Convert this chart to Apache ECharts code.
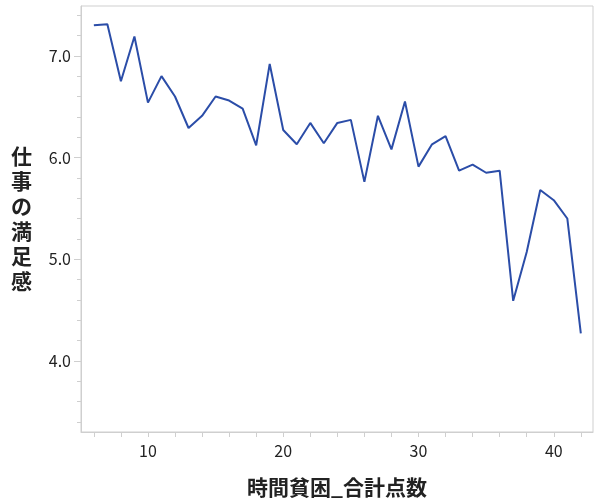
<!DOCTYPE html>
<html>
<head>
<meta charset="utf-8">
<script src="https://cdn.jsdelivr.net/npm/echarts@6/dist/echarts.min.js"></script>
<style>html,body{margin:0;padding:0;background:#fff}#c{width:600px;height:502px}</style>
</head>
<body>
<div id="c"></div>
<script>
const xValues = [6,7,8,9,10,11,12,13,14,15,16,17,18,19,20,21,22,23,24,25,26,27,28,29,30,31,32,33,34,35,36,37,38,39,40,41,42];
const yValues = [7.30,7.31,6.75,7.19,6.54,6.80,6.60,6.29,6.41,6.60,6.56,6.48,6.12,6.92,6.27,6.13,6.34,6.14,6.34,6.37,5.76,6.41,6.08,6.55,5.91,6.13,6.21,5.87,5.93,5.85,5.87,4.59,5.07,5.68,5.58,5.40,4.27];
const xLabelValues = [10,20,30,40];
const xTickValues = [6,8,10,12,14,16,18,20,22,24,26,28,30,32,34,36,38,40,42];
const yLabelValues = [4,5,6,7];
const yMinorValues = [3.4,3.6,3.8,4.0,4.2,4.4,4.6,4.8,5.0,5.2,5.4,5.6,5.8,6.0,6.2,6.4,6.6,6.8,7.0,7.2,7.4];
const xTitle = '時間貧困_合計点数';
const yTitle = '仕事の満足感';

const chart = echarts.init(document.getElementById('c'), null, {renderer: 'canvas'});
const font = 'Noto Sans CJK JP';
const frame = '#cfcfcf';
chart.setOption({
  animation: false,
  backgroundColor: '#fff',
  grid: {left: 81, top: 6, right: 7, bottom: 70, show: true, borderColor: frame, borderWidth: 1,
    backgroundColor: '#fff', containLabel: false, outerBoundsMode: 'none'},
  xAxis: {
    type: 'value', min: 5.05, max: 42.9,
    name: xTitle, nameLocation: 'middle', nameGap: 45,
    nameTextStyle: {fontFamily: font, fontSize: 21, fontWeight: 'bold', color: '#222'},
    axisLine: {show: true, lineStyle: {color: frame}},
    axisTick: {show: true, length: 5, lineStyle: {color: frame}, customValues: xTickValues},
    axisLabel: {fontFamily: font, fontSize: 16, color: '#222', margin: 11, customValues: xLabelValues},
    splitLine: {show: false}
  },
  yAxis: [{
    type: 'value', min: 3.3, max: 7.49,
    name: yTitle.split('').join('\n'), nameLocation: 'middle', nameRotate: 0, nameGap: 49,
    nameTextStyle: {fontFamily: font, fontSize: 21, fontWeight: 'bold', color: '#222', lineHeight: 25},
    axisLine: {show: true, lineStyle: {color: frame}},
    axisTick: {show: true, length: 7, lineStyle: {color: frame}, customValues: yLabelValues},
    axisLabel: {fontFamily: font, fontSize: 16, color: '#222', margin: 10, customValues: yLabelValues,
      formatter: v => v.toFixed(1)},
    splitLine: {show: false}
  }, {
    type: 'value', min: 3.3, max: 7.49, position: 'left',
    axisLine: {show: false},
    axisTick: {show: true, length: 4, lineStyle: {color: frame}, customValues: yMinorValues},
    axisLabel: {show: false},
    splitLine: {show: false}
  }],
  series: [{
    type: 'line',
    data: xValues.map((x, i) => [x, yValues[i]]),
    showSymbol: false,
    lineStyle: {color: '#2B4DA8', width: 2},
    itemStyle: {color: '#2B4DA8'}
  }]
});
</script>
</body>
</html>
